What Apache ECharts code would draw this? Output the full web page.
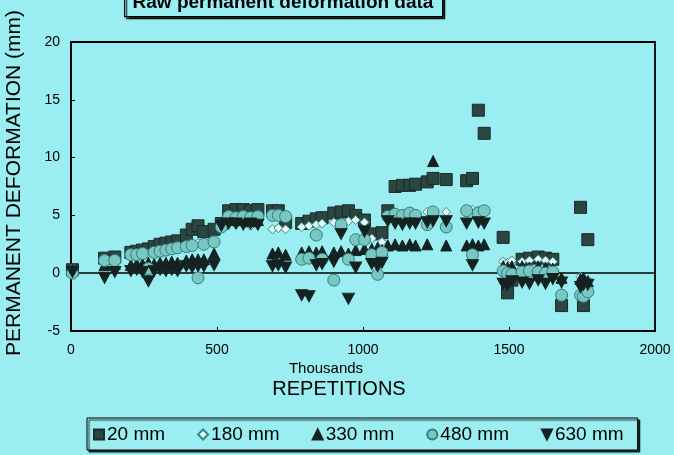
<!DOCTYPE html>
<html><head><meta charset="utf-8">
<script src="https://cdn.jsdelivr.net/npm/echarts@6/dist/echarts.min.js"></script>
<style>html,body{margin:0;padding:0;background:#9aeef2;}#c{width:674px;height:455px;}</style>
</head><body><div id="c"></div>
<script>
// Repetitions (thousands)
const REPS = [5,115,150,205,225,245,265,285,305,325,345,365,395,415,435,455,490,515,540,565,590,615,640,690,710,735,790,815,840,860,900,925,950,975,1005,1030,1050,1065,1085,1110,1135,1160,1180,1220,1240,1285,1355,1375,1395,1415,1480,1495,1510,1545,1570,1600,1625,1650,1680,1745,1755,1770];
const D20  = [0.3,1.3,1.4,1.8,1.9,2.0,2.1,2.3,2.5,2.6,2.7,2.8,3.3,3.8,4.1,3.6,3.8,4.3,5.4,5.5,5.5,5.4,5.5,5.4,5.4,4.4,4.3,4.5,4.7,4.8,5.2,5.3,5.4,5.0,4.6,3.4,1.2,3.5,5.4,7.5,7.6,7.6,7.7,7.9,8.2,8.1,8.0,8.2,14.1,12.1,3.1,-1.7,-0.6,1.2,1.3,1.4,1.3,1.2,-2.8,5.7,-2.8,2.9];
const D180 = [0.4,1.0,1.1,1.5,1.6,1.7,1.7,1.8,1.9,2.0,2.0,2.1,2.4,2.5,2.6,2.6,2.7,4.1,4.3,4.2,4.3,4.1,4.2,3.8,3.9,3.8,4.0,4.1,4.2,4.3,4.4,4.3,4.5,4.6,4.4,3.0,1.0,2.7,4.6,5.0,5.1,5.0,5.1,5.3,5.2,5.3,5.3,5.5,5.4,5.2,1.0,0.9,1.1,1.0,1.1,1.2,1.1,1.0,-1.8,-0.3,-1.5,-0.6];
const D330 = [0.3,0.7,0.8,0.7,0.8,0.8,0.9,0.8,0.9,0.9,1.0,0.9,1.1,1.2,1.2,1.2,1.7,4.3,4.6,4.6,4.6,4.5,4.6,1.7,1.8,1.6,1.8,1.9,1.8,1.9,1.8,1.9,1.7,2.0,2.1,2.1,2.2,2.0,2.4,2.5,2.4,2.5,2.4,2.5,9.7,2.4,2.4,2.5,2.4,2.5,0.6,0.5,0.6,0.6,0.5,0.6,0.5,0.4,-0.4,-0.5,-0.4,-0.7];
const D480 = [0.0,1.1,1.1,1.6,1.6,1.7,0.4,1.8,1.9,2.0,2.1,2.2,2.3,2.4,-0.4,2.5,2.7,4.0,4.9,4.8,4.9,4.8,4.9,5.0,5.0,4.9,1.2,1.3,3.3,1.2,-0.6,4.2,1.2,2.9,2.9,1.6,-0.1,1.8,4.9,5.1,5.0,5.2,5.0,4.2,5.3,4.0,5.4,1.6,5.2,5.4,0.2,0.0,-0.1,0.1,0.2,0.1,0.0,0.1,-1.9,-1.9,-2.0,-1.6];
const D630 = [0.1,-0.4,0.1,0.2,0.3,0.1,-0.7,0.2,0.3,0.2,0.3,0.2,0.6,0.5,0.6,0.6,0.7,4.1,4.3,4.3,4.2,4.3,4.2,0.6,0.7,0.5,-1.9,-2.0,0.7,0.8,1.0,3.4,-2.2,0.5,3.6,0.8,0.6,0.9,4.5,4.3,4.2,4.3,4.3,4.4,4.5,4.5,4.3,0.7,4.4,4.3,-0.9,-1.0,-0.7,-0.8,-0.9,-0.6,-0.9,-0.5,-0.8,-1.2,-1.0,-1.0];
const SERIES_NAMES = ['20 mm','180 mm','330 mm','480 mm','630 mm'];
const X_TICKS = [0,500,1000,1500,2000];
const Y_TICKS = [-5,0,5,10,15,20];

const FONT = 'Liberation Sans, Arial, sans-serif';
const BG = '#9aeef2';
const pts = arr => REPS.map((x,i)=>[x, arr[i]]);
const chart = echarts.init(document.getElementById('c'), null, {renderer:'canvas'});
const DOWN_TRI = 'path://M0,0 L10,0 L5,10 Z';
const styles = [
  {symbol:'rect', size:12, color:'#2b4541', border:'#1a2b29'},
  {symbol:'diamond', size:9, color:'#e8fbfb', border:'#2f8a84'},
  {symbol:'triangle', size:11, color:'#142321', border:'#142321'},
  {symbol:'circle', size:12, color:'#79c7c2', border:'#2f7f7a'},
  {symbol:DOWN_TRI, size:[12,11], color:'#142321', border:'#142321'}
];
const datas = [D20,D180,D330,D480,D630];
const series = datas.map((d,k)=>({
  name: SERIES_NAMES[k], type:'scatter', data: pts(d),
  symbol: styles[k].symbol, symbolSize: styles[k].size,
  itemStyle:{color:styles[k].color, borderColor:styles[k].border, borderWidth:1, opacity:1},
  z: 3+k
}));
series[0].markLine = {silent:true, symbol:['none','none'], label:{show:false},
  lineStyle:{color:'#000', width:1.5, type:'solid'}, data:[{yAxis:0}], z:2};

chart.setOption({
  backgroundColor:BG,
  animation:false,
  textStyle:{fontFamily:FONT},
  grid:{left:71, right:19, top:42, bottom:124, outerBoundsMode:'none', containLabel:false,
        show:true, borderColor:'#000', borderWidth:1.8, backgroundColor:'transparent'},
  xAxis:{type:'value', min:X_TICKS[0], max:X_TICKS[X_TICKS.length-1], interval:500,
    axisLine:{onZero:false, lineStyle:{color:'#000', width:1.5}},
    axisTick:{inside:true, length:4, lineStyle:{color:'#000'}},
    splitLine:{show:false},
    axisLabel:{color:'#000', fontSize:14, margin:12, fontFamily:FONT, formatter:v=>String(v)}
  },
  yAxis:{type:'value', min:Y_TICKS[0], max:Y_TICKS[Y_TICKS.length-1], interval:5,
    axisLine:{onZero:false, lineStyle:{color:'#000', width:1.5}},
    axisTick:{inside:true, length:4, lineStyle:{color:'#000'}},
    splitLine:{show:false},
    axisLabel:{color:'#000', fontSize:14, margin:11, fontFamily:FONT}
  },
  legend:{left:87, top:418, orient:'horizontal',
    data:[{name:'20 mm'},{name:'180 mm'},{name:'330 mm'},{name:'480 mm'},{name:'630 mm', icon:DOWN_TRI}],
    itemWidth:10, itemHeight:10, itemGap:32, padding:[7,14,6,6],
    borderColor:'#000', borderWidth:1, backgroundColor:BG,
    shadowColor:'rgba(0,0,0,0.8)', shadowOffsetX:2, shadowOffsetY:2, shadowBlur:1,
    textStyle:{fontSize:19, color:'#000', fontFamily:FONT, padding:[0,0,0,-2]}
  },
  graphic:[
    {type:'rect', left:124, top:-30, shape:{width:318, height:46},
     style:{fill:BG, stroke:'#000', lineWidth:1.2, shadowColor:'rgba(0,0,0,0.8)', shadowOffsetX:2, shadowOffsetY:2, shadowBlur:1}, z:10},
    {type:'text', x:283, y:3, style:{text:'Raw permanent deformation data', fill:'#000', font:'bold 19px '+FONT, textAlign:'center', textVerticalAlign:'middle'}, z:11},
    {type:'text', x:14, y:183, rotation:Math.PI/2, style:{text:'PERMANENT DEFORMATION (mm)', fill:'#000', font:'21px '+FONT, textAlign:'center', textVerticalAlign:'middle'}},
    {type:'text', x:326, y:369, style:{text:'Thousands', fill:'#000', font:'15px '+FONT, textAlign:'center', textVerticalAlign:'middle'}},
    {type:'text', x:339, y:389, style:{text:'REPETITIONS', fill:'#000', font:'20px '+FONT, textAlign:'center', textVerticalAlign:'middle'}}
  ],
  series: series
});
</script></body></html>
